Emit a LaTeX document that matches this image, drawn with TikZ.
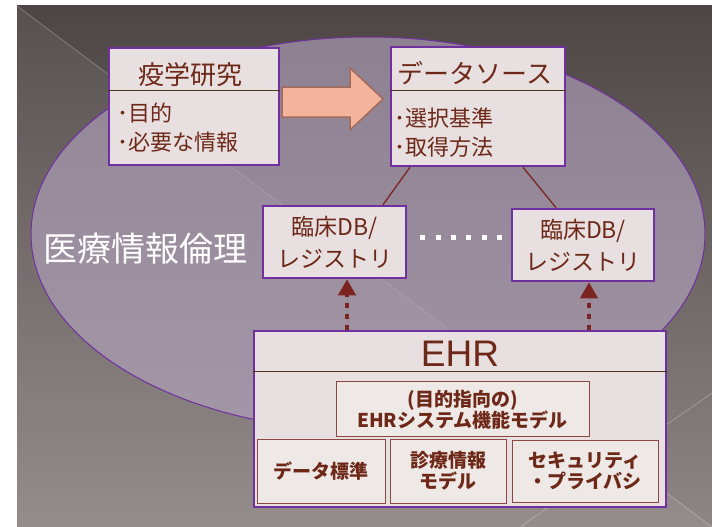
\documentclass[tikz,border=0pt]{standalone}
\usepackage{fontspec}
\setmainfont{Noto Sans CJK JP}
\newfontfamily\ehrfont{Liberation Sans}
\usetikzlibrary{positioning,arrows.meta}

\definecolor{slidetop}{HTML}{4E4645}
\definecolor{slidebot}{HTML}{8E8684}
\definecolor{ovalfill}{HTML}{B6A6C2}
\definecolor{boxpurple}{HTML}{7030A0}
\definecolor{boxfill}{HTML}{E8E0E0}
\definecolor{innerfill}{HTML}{EEE9E6}
\definecolor{textbrown}{HTML}{6E2818}
\definecolor{linered}{HTML}{7B2420}
\definecolor{arrowfill}{HTML}{F4B49C}
\definecolor{arrowdraw}{HTML}{A36B5B}

\begin{document}
\begin{tikzpicture}[x = 1pt, y = -1pt, >= {Triangle[width = 17pt, length = 16pt]},
    topbox/.style = {draw = boxpurple, line width = 2.5pt, fill = boxfill, inner sep = 0pt},
    innerbox/.style = {draw = linered!85, line width = .8pt, fill = innerfill, inner sep = 0pt},
    sepline/.style = {draw = black!60!brown, line width = 1pt},
    titletext/.style = {text = textbrown, font = \fontsize{26}{30}\selectfont},
    bullettext/.style = {text = textbrown, font = \fontsize{22}{29}\selectfont, align = left, inner sep = 0pt},
    dbtext/.style = {text = textbrown, font = \fontsize{23}{32}\selectfont, align = center},
    innertext/.style = {text = textbrown, font = \fontsize{19}{21}\selectfont\bfseries, align = center},
    link/.style = {draw = linered, line width = 1.3pt},
    dotarrow/.style = {draw = linered, fill = linered, line width = 4.5pt, dash pattern = on 5pt off 6pt, ->},
    dotrow/.style = {draw = white, line width = 5pt, dash pattern = on 5pt off 10.4pt}]

    \useasboundingbox (0,0) rectangle (712,527);
    \fill[white] (0,0) rectangle (712,527);

    % slide background
    \fill[top color = slidetop, bottom color = slidebot] (17,6) rectangle (712,527);
    \fill[white, opacity = .06] (17,6) -- (712,527) -- (17,527) -- cycle;
    \draw[white, opacity = .25, line width = .8pt] (17,6) -- (712,527);
    \draw[white, opacity = .25, line width = .8pt] (520,527) -- (712,393);

    % ethics oval
    \fill[ovalfill, opacity = .6] (368,234) ellipse [x radius = 337pt, y radius = 197pt];
    \draw[boxpurple, line width = 1pt] (368,234) ellipse [x radius = 337pt, y radius = 197pt];
    \node[text = white, font = \fontsize{34}{34}\selectfont] (ethics) at (145,249) {医療情報倫理};

    % study and data source
    \node[topbox, minimum width = 170pt, minimum height = 117pt] (epi) at (194,106.5) {};
    \draw[sepline] ([yshift = -44pt]epi.north west) -- ([yshift = -44pt]epi.north east);
    \node[titletext] (epititle) at (190,75) {疫学研究};
    \node[bullettext, anchor = west] (epibody) at (117,127.5) {･目的\\･必要な情報};

    \node[topbox, minimum width = 174pt, minimum height = 119pt] (src) at (478,106.5) {};
    \draw[sepline] ([yshift = -45pt]src.north west) -- ([yshift = -45pt]src.north east);
    \node[titletext] (srctitle) at (475,73) {データソース};
    \node[bullettext, anchor = west] (srcbody) at (394,133) {･選択基準\\･取得方法};

    \draw[fill = arrowfill, draw = arrowdraw, line width = 1.5pt]
        (282,87) -- (350,87) -- (350,68) -- (383,99) -- (350,130) -- (350,117) -- (282,117) -- cycle;

    % registries
    \node[topbox, minimum width = 143pt, minimum height = 72pt] (db1) at (334.5,242) {};
    \node[dbtext] (db1text) at (db1) {臨床DB/\\レジストリ};
    \node[topbox, minimum width = 142pt, minimum height = 72pt] (db2) at (583,245) {};
    \node[dbtext] (db2text) at (db2) {臨床DB/\\レジストリ};

    \draw[link] ([xshift = -68pt]src.south) -- ([xshift = 48.5pt]db1.north);
    \draw[link] ([xshift = 45pt]src.south) -- ([xshift = -27pt]db2.north);
    \draw[dotrow] ([shift = {(13,-5)}]db1.east) -- ([shift = {(-9,-8)}]db2.west);

    % EHR
    \node[topbox, minimum width = 412pt, minimum height = 176pt] (ehr) at (460,419) {};
    \draw[sepline] ([yshift = -42pt]ehr.north west) -- ([yshift = -42pt]ehr.north east);
    \node[text = textbrown, font = \ehrfont\fontsize{37}{37}\selectfont] (ehrtitle) at (460,354) {EHR};

    \node[innerbox, minimum width = 253pt, minimum height = 55pt] (ehrfunc) at (462.5,408.5) {};
    \node[innertext] at (462.5,410) {(目的指向の)\\EHRシステム機能モデル};
    \node[innerbox, minimum width = 128pt, minimum height = 64pt] (ehrstd) at (321,471) {};
    \node[innertext] at (ehrstd) {データ標準};
    \node[innerbox, minimum width = 116pt, minimum height = 64pt] (ehrmodel) at (448,471) {};
    \node[innertext] at (ehrmodel) {診療情報\\モデル};
    \node[innerbox, minimum width = 146pt, minimum height = 62pt] (ehrsec) at (585,471) {};
    \node[innertext] at (ehrsec) {セキュリティ\\・プライバシ};

    \draw[dotarrow] ([xshift = -113pt]ehr.north) -- ([xshift = -113pt]ehr.north |- db1.south);
    \draw[dotarrow] ([xshift = 129pt]ehr.north) -- ([xshift = 129pt]ehr.north |- db2.south);
\end{tikzpicture}
\end{document}
